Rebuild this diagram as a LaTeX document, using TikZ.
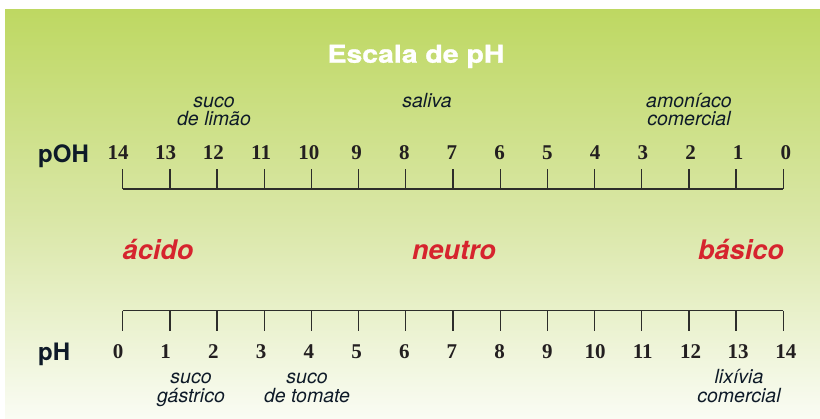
\documentclass[tikz,border=0pt]{standalone}
\usepackage{fontspec}
\setmainfont{Liberation Serif}
\newfontfamily\hv{TeX Gyre Heros}
\newfontfamily\hvwide{TeX Gyre Heros}[FakeStretch=1.16,FakeBold=1.2]
\definecolor{bgtop}{RGB}{190,216,98}
\definecolor{bgmid}{RGB}{218,231,168}
\definecolor{bgbot}{RGB}{250,252,244}
\definecolor{redlbl}{RGB}{214,36,46}
\definecolor{inkdark}{RGB}{14,26,40}
\definecolor{numink}{RGB}{35,31,32}
\definecolor{axisink}{RGB}{45,45,42}
\pgfdeclareverticalshading{bgshade}{100bp}{color(0bp)=(bgbot); color(25bp)=(bgbot); color(49bp)=(bgmid); color(75bp)=(bgtop); color(100bp)=(bgtop)}
\begin{document}
\begin{tikzpicture}[x=1pt,y=-1pt,
  num/.style={anchor=base,inner sep=0pt,text=numink,font=\fontsize{21}{21}\selectfont\bfseries},
  axlbl/.style={anchor=base west,inner sep=0pt,text=inkdark,font=\hv\fontsize{24}{24}\selectfont\bfseries},
  note/.style={anchor=base,inner sep=0pt,text=inkdark,font=\hv\fontsize{19.5}{19.5}\selectfont\itshape},
  zone/.style={anchor=base,inner sep=0pt,text=redlbl,font=\hv\fontsize{27}{27}\selectfont\bfseries\itshape},
  axisline/.style={draw=axisink,line width=1.3pt}]
\useasboundingbox (0,0) rectangle (820,419);
\fill[white] (0,0) rectangle (820,419);
\shade[shading=bgshade] (5,10) rectangle (820,419);
% title
\node[anchor=base,inner sep=0pt,text=white,font=\hvwide\fontsize{24.5}{24.5}\selectfont\bfseries] (title) at (416,62.7) {Escala de pH};
% top axis (pOH)
\coordinate (t0) at (122.7,189);
\coordinate (t14) at (783.3,189);
\draw[axisline] (t0) -- (t14);
\foreach \i in {0,...,14}{
  \coordinate (tt\i) at (122.7+47.186*\i,189);
  \coordinate (tu\i) at (122.7+47.186*\i,169);
  \draw[axisline] (tt\i) -- (tu\i);
  \pgfmathtruncatemacro{\v}{14-\i}
  \node[num] (pn\i) at (118+47.71*\i,160) {\v};
}
\node[axlbl] (poh) at (38,162.7) {pOH};
% bottom axis (pH)
\coordinate (b0) at (122.7,310.7);
\coordinate (b14) at (783.3,310.7);
\draw[axisline] (b0) -- (b14);
\foreach \i in {0,...,14}{
  \coordinate (bt\i) at (122.7+47.186*\i,310.7);
  \coordinate (bu\i) at (122.7+47.186*\i,331);
  \draw[axisline] (bt\i) -- (bu\i);
  \node[num] (hn\i) at (118+47.71*\i,358.3) {\i};
}
\node[axlbl] (ph) at (38,361) {pH};
% zones
\node[zone] (acido) at (158,259.3) {ácido};
\node[zone] (neutro) at (454,259.3) {neutro};
\node[zone] (basico) at (741,259.3) {básico};
% top notes
\node[note] (lim1) at (214,108) {suco};
\node[note] (lim2) at (214,126) {de limão};
\node[note] (sal) at (427,108) {saliva};
\node[note] (amo1) at (689,108) {amoníaco};
\node[note] (amo2) at (689,126) {comercial};
% bottom notes
\node[note] (gas1) at (191,384) {suco};
\node[note] (gas2) at (191,402.7) {gástrico};
\node[note] (tom1) at (307,384) {suco};
\node[note] (tom2) at (307,402.7) {de tomate};
\node[note] (lix1) at (739,384) {lixívia};
\node[note] (lix2) at (739,402.7) {comercial};
\end{tikzpicture}
\end{document}
